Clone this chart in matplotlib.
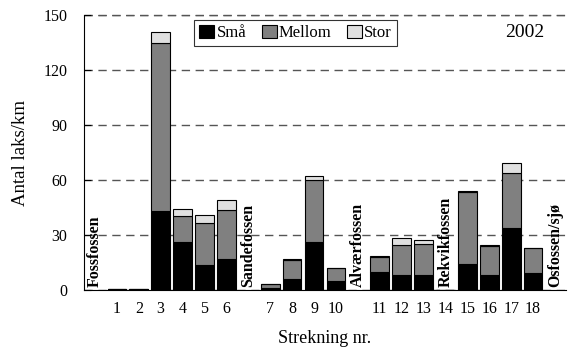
import matplotlib.pyplot as plt
import numpy as np

plt.rcParams['font.family'] = ['Liberation Serif', 'DejaVu Serif']

# 22 slots along x: fall names sit in their own slot, "14" shares a slot with Rekvikfossen
strekning = ['1', '2', '3', '4', '5', '6', '7', '8', '9', '10',
             '11', '12', '13', '14', '15', '16', '17', '18']
slot = [1, 2, 3, 4, 5, 6, 8, 9, 10, 11, 13, 14, 15, 16, 17, 18, 19, 20]
smaa = [0.4, 0.4, 43, 26.4, 13.6, 17, 1.2, 6, 26, 5, 9.8, 8, 8.4, 0, 14, 8, 34, 9.5]
mellom = [0, 0, 91.5, 14, 23.1, 26.5, 2, 10.5, 34, 6.8, 8.2, 16.4, 16.5, 0, 39.5, 16, 29.6, 13.2]
stor = [0, 0, 6, 3.6, 4, 5.5, 0, 0.2, 2.3, 0.3, 0.3, 3.8, 2.6, 0, 0.5, 0.3, 5.5, 0.2]
fosser = ['Fossfossen', 'Sandefossen', 'Alværfossen', 'Rekvikfossen', 'Osfossen/sjø']
foss_slot = [0, 7, 12, 16, 21]

fig = plt.figure(figsize=(5.68, 3.47), dpi=100)
ax = fig.add_axes([84 / 568, 57 / 347, 482 / 568, 275 / 347])

x = np.array(slot)
smaa = np.array(smaa)
mellom = np.array(mellom)
stor = np.array(stor)
w = 0.85
kw = dict(width=w, edgecolor='black', linewidth=0.8, zorder=3)
ax.bar(x, smaa, color='black', label='Små', **kw)
ax.bar(x, mellom, bottom=smaa, color='#808080', label='Mellom', **kw)
ax.bar(x, stor, bottom=smaa + mellom, color='#e0e0e0', label='Stor', **kw)

for name, s in zip(fosser, foss_slot):
    ax.text(s, 1.5, name, rotation=90, ha='center', va='bottom',
            fontsize=11.5, fontweight='bold', zorder=4)

ax.set_xlim(-0.5, 21.5)
ax.set_ylim(0, 150)
ax.set_yticks([0, 30, 60, 90, 120, 150])
ax.set_xticks(x)
ax.set_xticklabels(strekning)
ax.tick_params(axis='x', length=0, pad=8, labelsize=11.5)
ax.tick_params(axis='y', direction='in', length=5, pad=12, labelsize=11.5)
ax.yaxis.grid(True, linestyle=(0, (6, 4)), color='#555555', linewidth=1.0, zorder=0)
for side in ['top', 'right']:
    ax.spines[side].set_visible(False)
ax.axhline(150, linestyle=(0, (6, 4)), color='#555555', linewidth=1.0, zorder=0, clip_on=False)

ax.set_xlabel('Strekning nr.', fontsize=13, labelpad=9)
ax.set_ylabel('Antal laks/km', fontsize=13.5, labelpad=10)

ax.text(0.915, 0.935, '2002', transform=ax.transAxes, ha='center', va='center', fontsize=14)

leg = ax.legend(loc='upper left', bbox_to_anchor=(0.229, 0.982), ncol=3, frameon=True,
                fancybox=False, edgecolor='black', fontsize=12, handlelength=0.9,
                handleheight=0.8, handletextpad=0.15, columnspacing=0.9,
                borderpad=0.3, borderaxespad=0)
leg.get_frame().set_linewidth(0.8)

fig.savefig('out.png', dpi=100)
